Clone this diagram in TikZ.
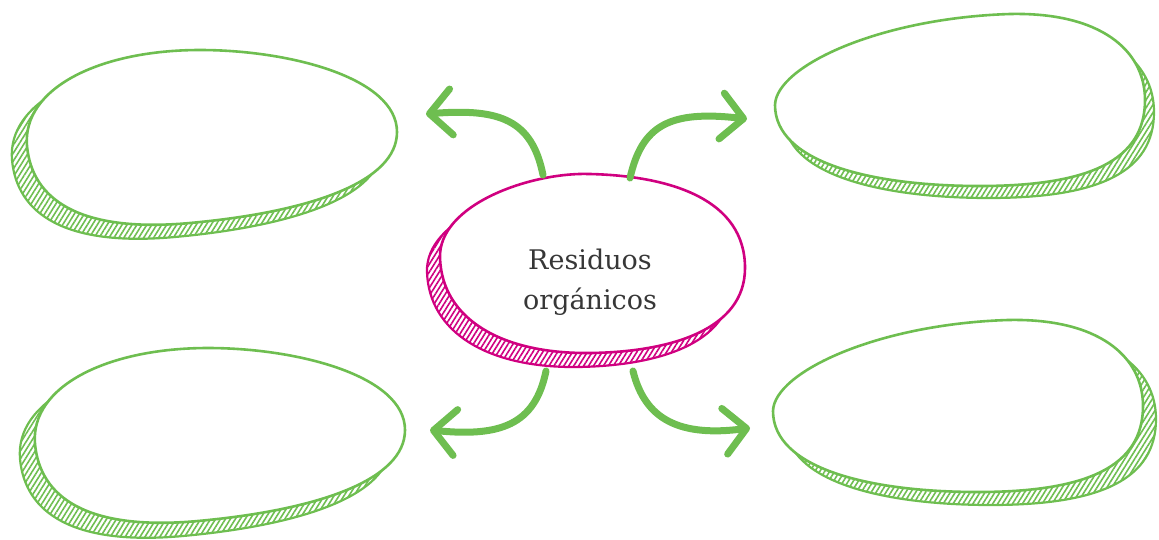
\documentclass[tikz,border=0pt]{standalone}
\usepackage{fontspec}
\newfontfamily\slabfont{DejaVu Serif}
\usetikzlibrary{arrows.meta,patterns.meta}
\definecolor{leaf}{RGB}{110,190,80}
\definecolor{berry}{RGB}{208,0,128}
\definecolor{ink}{RGB}{55,55,55}
\tikzset{
  hatchshadow/.style={pattern={Lines[angle=58,distance=4.2pt,line width=1.6pt]},pattern color=#1,draw=#1,line width=2.2pt},
  blobline/.style={fill=white,draw=#1,line width=2.6pt},
  bigarrow/.style={draw=leaf,line width=7pt,line cap=round,
    -{Straight Barb[length=22pt,width=46pt,line cap=round,line join=round]}},
}
\begin{document}
\begin{tikzpicture}[x=1pt,y=-1pt]
\useasboundingbox (0,0) rectangle (1159,539);
% ---- blob outlines
\def\tlblob{(27,146) .. controls (22,88) and (100,50) .. (200,50) .. controls (290,50) and (397,78) .. (397,132) .. controls (397,182) and (310,212) .. (190,223) .. controls (80,233) and (32,200) .. (27,146) -- cycle}
\def\trblob{(775,105) .. controls (776,66) and (880,18) .. (1010,14) .. controls (1100,12) and (1145,50) .. (1145,100) .. controls (1145,160) and (1090,186) .. (980,186) .. controls (870,186) and (775,162) .. (775,105) -- cycle}
\def\cblob{(440,258) .. controls (438,205) and (530,172) .. (590,174) .. controls (672,176) and (745,200) .. (745,268) .. controls (745,330) and (670,352) .. (590,353) .. controls (500,354) and (442,318) .. (440,258) -- cycle}
% ---- top-left blob
\path[hatchshadow=leaf,shift={(-15,14)}] \tlblob;
\path[blobline=leaf] \tlblob;
\coordinate (tl) at (210,140);
% ---- bottom-left blob
\path[hatchshadow=leaf,shift={(-7,313)}] \tlblob;
\path[blobline=leaf,shift={(8,298)}] \tlblob;
\coordinate (bl) at (215,435);
% ---- top-right blob
\path[hatchshadow=leaf,shift={(9,12)}] \trblob;
\path[blobline=leaf] \trblob;
\coordinate (tr) at (960,100);
% ---- bottom-right blob
\path[hatchshadow=leaf,shift={(11,319)}] \trblob;
\path[blobline=leaf,shift={(-2,306)}] \trblob;
\coordinate (br) at (960,410);
% ---- centre blob
\path[hatchshadow=berry,shift={(-13,14)}] \cblob;
\path[blobline=berry] \cblob;
\node[align=center,text=ink,font=\slabfont\fontsize{27}{40}\selectfont] (centre) at (590,282) {Residuos\\orgánicos};
% ---- arrows
\coordinate (s1) at (543,175);
\coordinate (s2) at (630,178);
\coordinate (s3) at (546,371);
\coordinate (s4) at (633,371);
\coordinate (e1) at (426,114);
\coordinate (e2) at (747,119);
\coordinate (e3) at (430,430);
\coordinate (e4) at (750,428);
\draw[bigarrow] (s1) .. controls (532,120) and (500,108) .. (e1);
\draw[bigarrow] (s2) .. controls (642,125) and (670,110) .. (e2);
\draw[bigarrow] (s3) .. controls (535,425) and (500,437) .. (e3);
\draw[bigarrow] (s4) .. controls (645,420) and (680,437) .. (e4);
\end{tikzpicture}
\end{document}
